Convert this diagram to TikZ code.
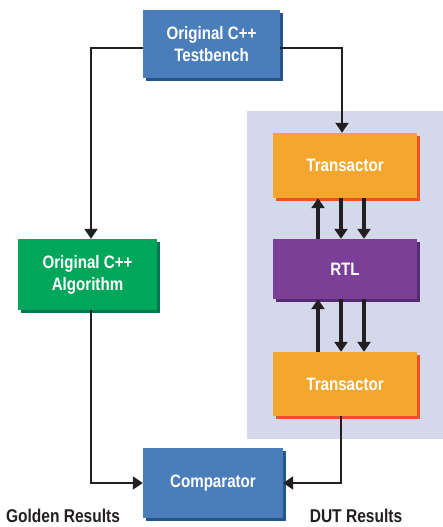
\documentclass[tikz,border=0pt]{standalone}
\usepackage{fontspec}
\setmainfont{Liberation Sans}[FakeStretch=0.84]
\usetikzlibrary{arrows.meta,shadows,positioning}

\definecolor{boxblue}{RGB}{74,126,187}
\definecolor{shblue}{RGB}{38,86,142}
\definecolor{boxgreen}{RGB}{0,166,90}
\definecolor{shgreen}{RGB}{0,118,82}
\definecolor{boxorange}{RGB}{245,166,44}
\definecolor{shorange}{RGB}{236,82,40}
\definecolor{boxpurple}{RGB}{123,63,152}
\definecolor{shpurple}{RGB}{86,42,116}
\definecolor{panel}{RGB}{211,216,235}
\definecolor{wire}{RGB}{35,31,32}

\begin{document}
\begin{tikzpicture}[x=1pt,y=-1pt,
  block/.style={rectangle,inner sep=0pt,text=white,align=center,
    font=\bfseries\fontsize{18}{22}\selectfont,minimum width=140pt,minimum height=66pt},
  blue box/.style={block,fill=boxblue,
    drop shadow={shadow xshift=3pt,shadow yshift=-3pt,fill=shblue,opacity=1}},
  green box/.style={block,fill=boxgreen,
    drop shadow={shadow xshift=3pt,shadow yshift=-3pt,fill=shgreen,opacity=1}},
  orange box/.style={block,fill=boxorange,minimum width=144pt,
    drop shadow={shadow xshift=3pt,shadow yshift=-3pt,fill=shorange,opacity=1}},
  purple box/.style={block,fill=boxpurple,minimum width=144pt,
    drop shadow={shadow xshift=3pt,shadow yshift=-3pt,fill=shpurple,opacity=1}},
  wire/.style={draw=wire,line width=2pt,-{Triangle[width=13pt,length=10pt]}},
  bus/.style={draw=wire,line width=3.5pt,-{Triangle[width=13pt,length=10pt]}},
  result/.style={text=wire,font=\bfseries\fontsize{18.5}{20}\selectfont}]
\useasboundingbox (0,0) rectangle (443,527);

% DUT panel
\fill[panel] (247,111) rectangle (443,439);

% testbench and golden model
\node[blue box,minimum width=137pt,minimum height=68pt] (tb) at (211.5,44) {Original C++\\Testbench};
\node[green box,minimum width=139pt,minimum height=71pt] (alg) at (87.5,274.5) {Original C++\\Algorithm};

% DUT side
\node[orange box,minimum height=65pt] (tr1) at (345,165.5) {Transactor};
\node[purple box,minimum height=60pt] (rtl) at (345,269) {RTL};
\node[orange box,minimum height=64pt] (tr2) at (345,384) {Transactor};

% comparison
\node[blue box,minimum height=70pt] (cmp) at (213,483) {Comparator};

\node[result] (gold) at (63,516) {Golden Results};
\node[result] (dut) at (356,516) {DUT Results};

% connectors
\draw[wire] ([yshift=-4pt]tb.west) -| ([xshift=3.5pt]alg.north);
\draw[wire] ([yshift=-4pt]tb.east) -| ([xshift=-3pt]tr1.north);
\draw[wire] ([xshift=3.5pt]alg.south) |- (cmp.west);
\draw[wire] ([xshift=-4pt]tr2.south) |- (cmp.east);

% buses
\draw[bus] ([xshift=-27pt]rtl.north) -- ([xshift=-27pt]tr1.south);
\draw[bus] ([xshift=-4pt]tr1.south) -- ([xshift=-4pt]rtl.north);
\draw[bus] ([xshift=19pt]tr1.south) -- ([xshift=19pt]rtl.north);
\draw[bus] ([xshift=-27pt]tr2.north) -- ([xshift=-27pt]rtl.south);
\draw[bus] ([xshift=-4pt]rtl.south) -- ([xshift=-4pt]tr2.north);
\draw[bus] ([xshift=19pt]rtl.south) -- ([xshift=19pt]tr2.north);

\end{tikzpicture}
\end{document}
